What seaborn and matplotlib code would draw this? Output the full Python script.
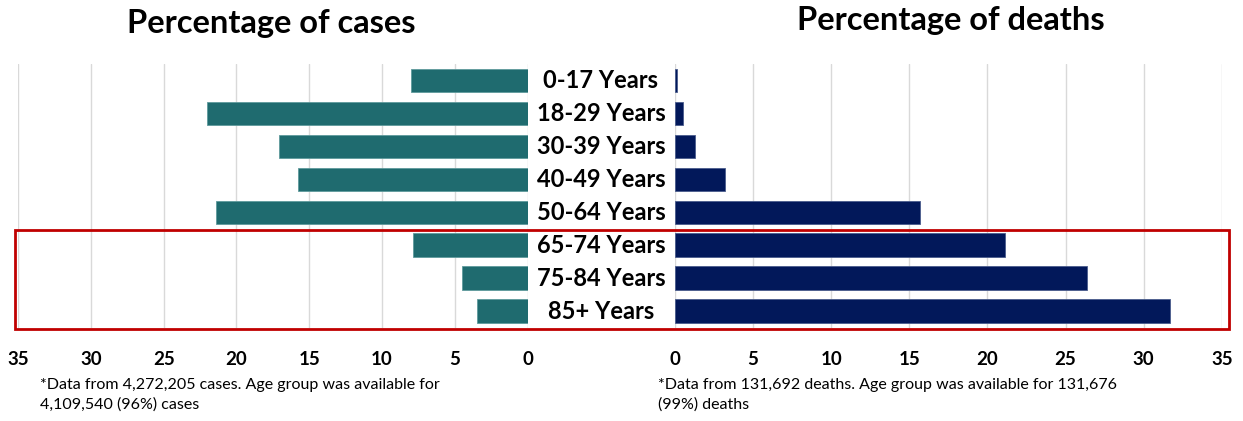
import numpy as np
import pandas as pd
import seaborn as sns
import matplotlib.pyplot as plt
from matplotlib.patches import Rectangle
from matplotlib.transforms import blended_transform_factory

ages = ["0-17 Years", "18-29 Years", "30-39 Years", "40-49 Years",
        "50-64 Years", "65-74 Years", "75-84 Years", "85+ Years"]
cases_pct = [8.0, 22.0, 17.1, 15.8, 21.4, 7.9, 4.5, 3.5]
deaths_pct = [0.1, 0.5, 1.3, 3.2, 15.7, 21.1, 26.4, 31.7]
ticks = [0, 5, 10, 15, 20, 25, 30, 35]

df = pd.DataFrame({"age": ages, "cases": cases_pct, "deaths": deaths_pct})

sns.set_theme(style="white")
plt.rcParams['font.family'] = ['Lato', 'DejaVu Sans']
plt.rcParams['text.color'] = 'black'
plt.rcParams['xtick.color'] = 'black'

teal = "#1f6b6f"
navy = "#02185a"

fig = plt.figure(figsize=(12.43, 4.21), dpi=100)
ax_l = fig.add_axes([0.0145, 0.222, 0.410, 0.627])
ax_r = fig.add_axes([0.543, 0.222, 0.440, 0.627])

sns.barplot(data=df, x="cases", y="age", orient="h", ax=ax_l, color=teal,
            width=0.7, saturation=1, edgecolor="#5f9a9c", linewidth=0.6)
sns.barplot(data=df, x="deaths", y="age", orient="h", ax=ax_r, color=navy,
            width=0.7, saturation=1, edgecolor="#4a5c8c", linewidth=0.6)

ax_l.set_xlim(35, 0)
ax_r.set_xlim(0, 35)
for ax in (ax_l, ax_r):
    ax.set_ylim(7.5, -0.5)
    ax.set_xticks(ticks)
    ax.set_xticklabels([str(t) for t in ticks], fontsize=13.5, fontweight="bold")
    ax.set_yticks([])
    ax.set_xlabel("")
    ax.set_ylabel("")
    ax.grid(axis="x", color="#d9d9d9", linewidth=1)
    ax.set_axisbelow(True)
    ax.tick_params(axis="x", length=0, pad=17)
    for s in ax.spines.values():
        s.set_visible(False)

# age labels between the two panels
trans = blended_transform_factory(fig.transFigure, ax_l.transData)
for i, a in enumerate(ages):
    ax_l.text(0.4835, i, a, transform=trans, ha="center", va="center",
              fontsize=17, fontweight="bold", clip_on=False)

fig.text(0.218, 0.945, "Percentage of cases", ha="center", va="center",
         fontsize=23.5, fontweight="bold")
fig.text(0.765, 0.952, "Percentage of deaths", ha="center", va="center",
         fontsize=23.5, fontweight="bold")

fig.text(0.032, 0.062, "*Data from 4,272,205 cases. Age group was available for\n4,109,540 (96%) cases",
         ha="left", va="center", fontsize=11.5, linespacing=1.4)
fig.text(0.529, 0.062, "*Data from 131,692 deaths. Age group was available for 131,676\n(99%) deaths",
         ha="left", va="center", fontsize=11.5, linespacing=1.4)

# highlight box around older age groups
fig.patches.append(Rectangle((15 / 1243, 1 - 329 / 421), (1229 - 15) / 1243, (329 - 230) / 421,
                             transform=fig.transFigure, fill=False,
                             edgecolor="#c00000", linewidth=2))

fig.savefig("out.png", dpi=100)
